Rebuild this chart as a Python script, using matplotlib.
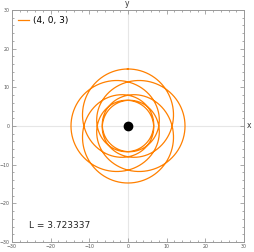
import numpy as np
import matplotlib
matplotlib.use("Agg")
import matplotlib.pyplot as plt
from matplotlib.ticker import MultipleLocator

# ---- data ----
orbit_label = "(4, 0, 3)"          # (z, w, v) periodic orbit
z_w_v = (4, 0, 3)
L_value = 3.723337                 # angular momentum (M = 1)
apo_angle_deg = 90.0               # direction of first apoapsis
axis_range = (-30, 30)
tick_values = [-30, -20, -10, 0, 10, 20, 30]

# ---- Schwarzschild geodesic orbit u'' = M/L^2 - u + 3 M u^2 ----
def rhs(y):
    u, du = y
    return np.array([du, 1.0 / L_value**2 - u + 3.0 * u**2])

def integrate(r_a, phi_end, h=1e-3):
    n = int(phi_end / h) + 1
    y = np.array([1.0 / r_a, 0.0])
    out = np.empty(n)
    out[0] = y[0]
    for i in range(1, n):
        k1 = rhs(y); k2 = rhs(y + h / 2 * k1); k3 = rhs(y + h / 2 * k2); k4 = rhs(y + h * k3)
        y = y + h / 6 * (k1 + 2 * k2 + 2 * k3 + k4)
        out[i] = y[0]
    return np.linspace(0, (n - 1) * h, n), out

def half_period(r_a, h=2e-3):
    y = np.array([1.0 / r_a, 0.0]); phi = 0.0
    while True:
        k1 = rhs(y); k2 = rhs(y + h / 2 * k1); k3 = rhs(y + h / 2 * k2); k4 = rhs(y + h * k3)
        yn = y + h / 6 * (k1 + 2 * k2 + 2 * k3 + k4)
        if phi > 0.1 and yn[1] <= 0:
            frac = y[1] / (y[1] - yn[1])
            return phi + frac * h
        y = yn; phi += h

z, w, v = z_w_v
q = w + v / z
target = np.pi * (1 + q)
lo, hi = 9.6, 30.0
for _ in range(40):
    mid = 0.5 * (lo + hi)
    if half_period(mid) < target:
        lo = mid
    else:
        hi = mid
r_apo = 0.5 * (lo + hi)

phi, u = integrate(r_apo, 2 * np.pi * z * (1 + q) + 0.01)
r = 1.0 / u
ang = phi + np.deg2rad(apo_angle_deg)
xs = r * np.cos(ang)
ys = r * np.sin(ang)

# ---- figure ----
fig = plt.figure(figsize=(2.54, 2.52), dpi=100)
ax = fig.add_axes([12 / 254, 10 / 252, 232 / 254, 232 / 252])
orange = (1.0, 0.5, 0.0)
ax.axhline(0, color="#e6e6e6", lw=0.8, zorder=0)
ax.axvline(0, color="#e6e6e6", lw=0.8, zorder=0)
ax.plot(xs, ys, color=orange, lw=0.9, label=orbit_label)
ax.plot([0], [0], "o", color="black", ms=6)

ax.set_xlim(*axis_range)
ax.set_ylim(*axis_range)
ax.set_xticks(tick_values)
ax.set_yticks(tick_values)
ax.xaxis.set_minor_locator(MultipleLocator(2))
ax.yaxis.set_minor_locator(MultipleLocator(2))
ax.tick_params(which="both", direction="in", colors="#888888", labelcolor="#555555",
               labelsize=3.4, pad=1.5, top=True, right=True, width=0.5)
ax.tick_params(which="major", length=3)
ax.tick_params(which="minor", length=1.5)
for s in ax.spines.values():
    s.set_color("#999999")
    s.set_linewidth(0.7)

leg = ax.legend(loc="upper left", frameon=False, fontsize=6.5, handlelength=1.2,
                handletextpad=0.5, borderaxespad=0.25)
ax.text(0.072, 0.07, f"L = {L_value:.6f}", transform=ax.transAxes, fontsize=6.5,
        color="#222222", ha="left", va="center")
fig.text(249 / 254, 1 - 126 / 252, "x", fontsize=5.5, color="#333333", ha="center", va="center")
fig.text(127 / 254, 1 - 3 / 252, "y", fontsize=5.5, color="#333333", ha="center", va="center")

fig.savefig("out.png", dpi=100)
